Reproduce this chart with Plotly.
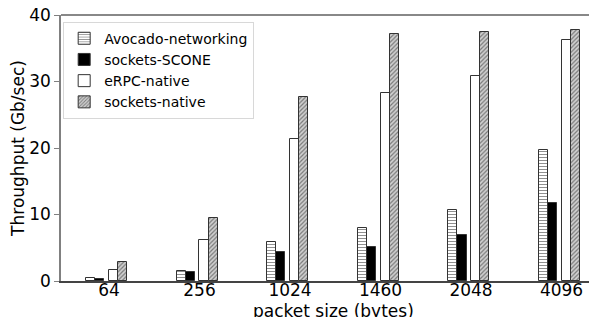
import plotly.graph_objects as go

categories = ["64", "256", "1024", "1460", "2048", "4096"]
avocado = [0.5, 1.5, 5.8, 8.0, 10.7, 19.7]
scone = [0.35, 1.4, 4.4, 5.1, 6.9, 11.8]
erpc = [1.6, 6.1, 21.3, 28.3, 30.8, 36.3]
native = [2.8, 9.5, 27.7, 37.1, 37.5, 37.7]
y_ticks = [0, 10, 20, 30, 40]

xs = list(range(len(categories)))
FONT = "DejaVu Sans"
edge = dict(color="#333333", width=1)

fig = go.Figure()
fig.add_bar(name="Avocado-networking", x=xs, y=avocado, offset=-0.25, width=0.1,
            marker=dict(color="white", line=edge,
                        pattern=dict(shape="-", fgcolor="#222222", bgcolor="white", size=3, solidity=0.35)))
fig.add_bar(name="sockets-SCONE", x=xs, y=scone, offset=-0.15, width=0.1,
            marker=dict(color="black", line=edge))
fig.add_bar(name="eRPC-native", x=xs, y=erpc, offset=0.0, width=0.1,
            marker=dict(color="white", line=edge))
fig.add_bar(name="sockets-native", x=xs, y=native, offset=0.1, width=0.1,
            marker=dict(color="white", line=edge,
                        pattern=dict(shape="/", fgcolor="#222222", bgcolor="#d0d0d0", size=3, solidity=0.4)))

fig.update_layout(
    width=597, height=309,
    margin=dict(l=53, r=0, t=7, b=36),
    plot_bgcolor="white", paper_bgcolor="white",
    font=dict(family=FONT, color="black"),
    showlegend=True,
    legend=dict(x=0.004, y=0.975, xanchor="left", yanchor="top",
                bgcolor="white", bordercolor="#d8d8d8", borderwidth=1,
                font=dict(family=FONT, size=14), tracegroupgap=0, itemwidth=30),
    bargap=0,
)
fig.update_xaxes(range=[-0.53, 5.48], tickmode="array", tickvals=xs, ticktext=categories,
                 showgrid=False, zeroline=False, showline=True, linecolor="#444444", linewidth=1.5,
                 ticks="", tickfont=dict(size=17), automargin=False, ticklabelstandoff=-7)
fig.update_yaxes(range=[0, 40], tickmode="array", tickvals=y_ticks,
                 showgrid=False, zeroline=False, showline=True, linecolor="#808080", linewidth=1.5,
                 ticks="outside", ticklen=5, tickcolor="#808080", tickfont=dict(size=17),
                 automargin=False, ticklabeloverflow="allow",
                 title=dict(text="Throughput (Gb/sec)", font=dict(size=17), standoff=4))
fig.add_shape(type="line", xref="paper", yref="paper", x0=0, x1=1, y0=1, y1=1,
              line=dict(color="#606060", width=1.5))
fig.add_annotation(text="packet size (bytes)", xref="paper", yref="paper", x=0.5, y=0,
                   xanchor="center", yanchor="top", yshift=-18, showarrow=False,
                   font=dict(family=FONT, size=17))

fig.write_html("out.html")
